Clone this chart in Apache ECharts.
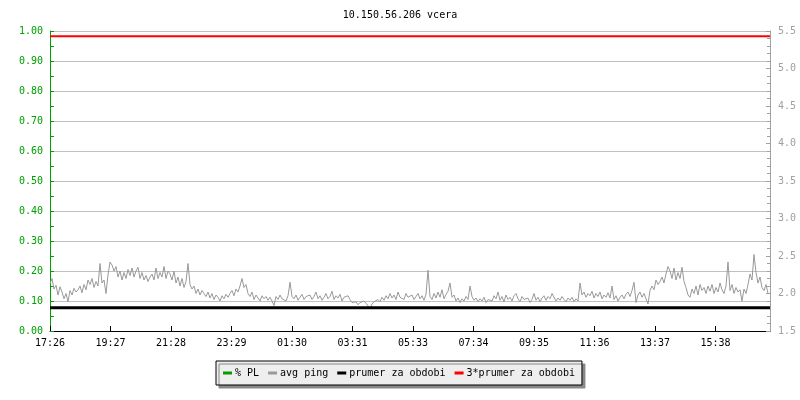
<!DOCTYPE html>
<html>
<head>
<meta charset="utf-8">
<script src="https://cdn.jsdelivr.net/npm/echarts@6/dist/echarts.min.js"></script>
<style>
html,body{margin:0;padding:0;background:#fff;}
#chart{width:800px;height:400px;}
</style>
</head>
<body>
<div id="chart"></div>
<script>
// x-axis tick labels (every 121 minutes, starting at 17:26)
const timeLabels = ['17:26','19:27','21:28','23:29','01:30','03:31','05:33','07:34','09:35','11:36','13:37','15:38'];
const labelStepMin = 121;
const spanMin = 1440;
const sampleStepMin = 4;

// % PL (packet loss) – nothing visible in the picture
const plPercent = [];

// avg ping [ms], one value every 4 minutes
const pingMs = [
  2.13,2.20,2.06,2.11,1.98,2.09,2.02,1.93,2.00,1.89,
  2.04,1.98,2.07,2.02,2.05,2.10,2.01,2.12,2.05,2.18,
  2.12,2.20,2.08,2.16,2.10,2.40,2.14,2.18,2.00,2.25,
  2.42,2.38,2.30,2.36,2.22,2.30,2.18,2.28,2.20,2.32,
  2.24,2.34,2.22,2.30,2.35,2.20,2.28,2.18,2.24,2.16,
  2.22,2.26,2.18,2.34,2.20,2.28,2.22,2.36,2.20,2.30,
  2.26,2.18,2.30,2.14,2.22,2.10,2.20,2.08,2.16,2.40,
  2.12,2.06,2.10,2.00,2.06,1.98,2.04,2.00,1.96,2.02,
  1.94,2.00,1.92,1.98,1.95,1.90,1.97,1.93,1.99,1.95,
  2.00,2.04,1.97,2.06,2.02,2.10,2.20,2.08,2.12,2.00,
  1.96,2.02,1.92,1.98,1.94,1.90,1.97,1.93,1.96,1.91,
  1.95,1.90,1.84,1.96,1.92,1.98,1.93,1.95,1.90,1.97,
  2.15,1.96,1.93,1.98,1.91,1.95,1.99,1.92,1.96,1.94,
  1.98,1.92,1.96,2.02,1.93,1.97,1.91,1.95,2.00,1.93,
  1.96,2.03,1.92,1.97,1.94,1.99,1.90,1.95,1.93,1.97,
  1.92,1.88,1.86,1.89,1.85,1.88,1.86,1.90,1.87,1.85,
  1.80,1.86,1.89,1.87,1.92,1.89,1.95,1.91,1.97,1.93,
  2.00,1.94,1.98,1.92,2.02,1.95,1.97,1.92,2.00,1.95,
  1.94,1.98,1.92,1.96,2.00,1.93,1.97,1.91,1.99,2.31,
  1.96,1.92,2.00,1.94,2.02,1.95,2.05,1.93,1.99,2.03,
  2.14,1.95,1.98,1.90,1.94,1.88,1.93,1.90,1.96,1.92,
  2.10,1.96,1.91,1.94,1.89,1.93,1.90,1.95,1.88,1.92,
  1.94,1.90,1.97,1.93,2.02,1.91,1.96,1.89,1.98,1.92,
  1.95,1.90,1.97,2.00,1.93,1.89,1.96,1.92,1.90,1.94,
  1.88,1.92,2.00,1.91,1.95,1.89,1.94,1.97,1.91,1.96,
  1.93,2.00,1.95,1.90,1.94,1.91,1.96,1.92,1.89,1.94,
  1.91,1.95,1.89,1.93,1.90,2.14,1.98,2.02,1.95,2.00,
  1.97,2.03,1.94,2.00,1.96,2.02,1.93,1.98,1.95,2.01,
  1.94,2.10,1.92,1.97,1.90,1.95,1.98,1.93,1.99,2.02,
  1.96,2.04,2.15,1.88,1.98,2.02,1.95,2.00,1.93,1.86,
  2.04,2.10,2.05,2.18,2.12,2.16,2.22,2.14,2.26,2.36,
  2.30,2.20,2.34,2.18,2.28,2.20,2.35,2.16,2.08,1.98,
  1.95,2.06,2.00,2.10,1.98,2.12,2.04,2.08,2.00,2.10,
  2.03,2.12,2.00,2.08,2.02,2.14,2.05,2.00,2.10,2.42,
  2.04,2.12,2.00,2.08,2.02,2.05,1.90,2.06,2.00,2.12,
  2.26,2.18,2.52,2.28,2.14,2.22,2.08,2.04,2.12,2.00
];

// period average and 3x period average [ms]
const prumer = 1.81;
const prumer3 = 5.43;

const FONT = '"DejaVu Sans Mono", monospace';
const chart = echarts.init(document.getElementById('chart'), null, {renderer: 'canvas'});

const pingData = pingMs.map((v, i) => [i * sampleStepMin, v]);

chart.setOption({
  backgroundColor: '#ffffff',
  animation: false,
  title: {
    text: '10.150.56.206 vcera',
    left: 'center',
    top: 5,
    textStyle: {fontFamily: FONT, fontSize: 10, fontWeight: 'normal', color: '#000'}
  },
  legend: {
    left: 216,
    top: 361,
    padding: [7, 7, 7, 7],
    itemGap: 9,
    itemWidth: 9,
    itemHeight: 3,
    icon: 'rect',
    backgroundColor: '#eeeeee',
    borderColor: '#000',
    borderWidth: 1,
    shadowColor: '#888',
    shadowBlur: 0.1,
    shadowOffsetX: 3,
    shadowOffsetY: 3,
    textStyle: {fontFamily: FONT, fontSize: 10, color: '#000', padding: [0, 0, 0, -2]},
    data: ['% PL', 'avg ping', 'prumer za obdobi', '3*prumer za obdobi']
  },
  grid: {left: 50, right: 30, top: 31, bottom: 69, containLabel: false},
  xAxis: {
    type: 'value',
    min: 0,
    max: spanMin,
    interval: labelStepMin,
    axisLine: {show: true, lineStyle: {color: '#000', width: 1}},
    axisTick: {show: true, inside: true, length: 5, lineStyle: {color: '#000'}},
    axisLabel: {
      fontFamily: FONT, fontSize: 10, color: '#000', margin: 7,
      showMaxLabel: false,
      formatter: function (v) {
        const k = Math.round(v / labelStepMin);
        return (k < timeLabels.length && Math.abs(v - k * labelStepMin) < 1e-6) ? timeLabels[k] : '';
      }
    },
    splitLine: {show: false}
  },
  yAxis: [
    {
      type: 'value',
      position: 'left',
      min: 0,
      max: 1,
      interval: 0.1,
      axisLine: {show: true, lineStyle: {color: '#00a000', width: 1}},
      axisTick: {show: true, inside: true, length: 4, lineStyle: {color: '#00a000'}},
      minorTick: {show: true, splitNumber: 2, length: 4, lineStyle: {color: '#00a000'}},
      axisLabel: {fontFamily: FONT, fontSize: 10, color: '#00a000', margin: 7, formatter: v => v.toFixed(2)},
      splitLine: {show: true, lineStyle: {color: '#c0c0c0', width: 1}}
    },
    {
      type: 'value',
      position: 'right',
      min: 1.5,
      max: 5.5,
      interval: 0.5,
      axisLine: {show: true, lineStyle: {color: '#a0a0a0', width: 1}},
      axisTick: {show: true, inside: true, length: 4, lineStyle: {color: '#a0a0a0'}},
      minorTick: {show: true, splitNumber: 5, length: 3, lineStyle: {color: '#a0a0a0'}},
      axisLabel: {fontFamily: FONT, fontSize: 10, color: '#a0a0a0', margin: 8, formatter: v => v.toFixed(1)},
      splitLine: {show: false}
    }
  ],
  series: [
    {
      name: '% PL', type: 'line', yAxisIndex: 0, data: plPercent,
      showSymbol: false, itemStyle: {color: '#00a000'}, lineStyle: {color: '#00a000', width: 1}
    },
    {
      name: 'avg ping', type: 'line', yAxisIndex: 1, data: pingData,
      showSymbol: false, symbol: 'none',
      itemStyle: {color: '#999999'}, lineStyle: {color: '#999999', width: 1}, z: 3
    },
    {
      name: 'prumer za obdobi', type: 'line', yAxisIndex: 1,
      data: [[0, prumer], [spanMin, prumer]],
      showSymbol: false, symbol: 'none',
      itemStyle: {color: '#000'}, lineStyle: {color: '#000', width: 3}, z: 4
    },
    {
      name: '3*prumer za obdobi', type: 'line', yAxisIndex: 1,
      data: [[0, prumer3], [spanMin, prumer3]],
      showSymbol: false, symbol: 'none',
      itemStyle: {color: '#ff0000'}, lineStyle: {color: '#ff0000', width: 2}, z: 4
    }
  ]
});
</script>
</body>
</html>
